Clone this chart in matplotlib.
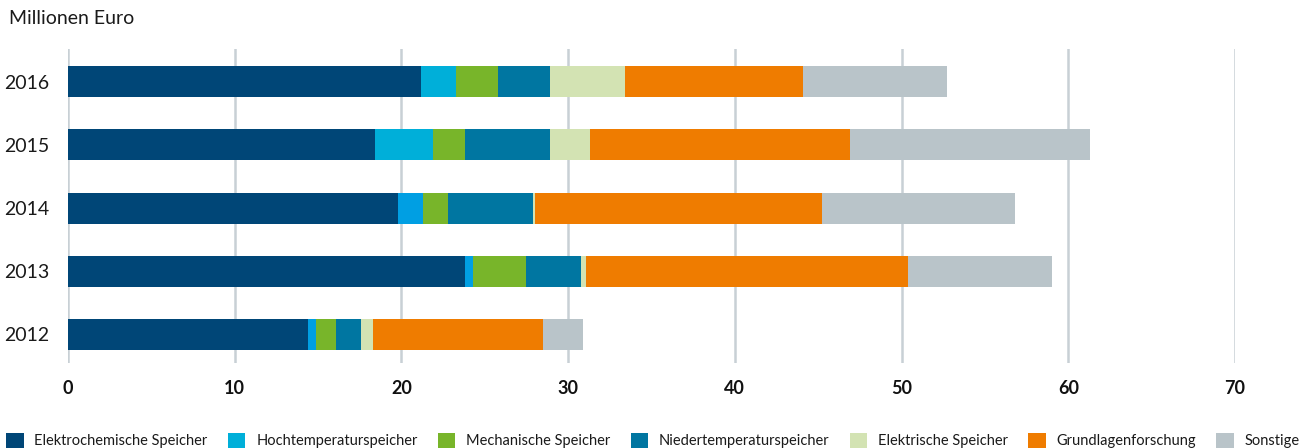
import matplotlib
matplotlib.use("Agg")
import matplotlib.pyplot as plt
from matplotlib.patches import Patch

plt.rcParams['font.family'] = ['Lato', 'DejaVu Sans']

years = ["2012", "2013", "2014", "2015", "2016"]
categories = ["Elektrochemische Speicher", "Hochtemperaturspeicher", "Mechanische Speicher",
              "Niedertemperaturspeicher", "Elektrische Speicher", "Grundlagenforschung", "Sonstige"]
elektrochemisch = [14.4, 23.8, 19.8, 18.4, 21.2]
hochtemperatur = [0.5, 0.5, 1.5, 3.5, 2.1]
mechanisch = [1.2, 3.2, 1.5, 1.9, 2.5]
niedertemperatur = [1.5, 3.3, 5.1, 5.1, 3.1]
elektrisch = [0.7, 0.3, 0.1, 2.4, 4.5]
grundlagen = [10.2, 19.3, 17.2, 15.6, 10.7]
sonstige = [2.4, 8.6, 11.6, 14.4, 8.6]
series = [elektrochemisch, hochtemperatur, mechanisch, niedertemperatur, elektrisch, grundlagen, sonstige]
colors = ["#004677", "#00AFD9", "#78B52A", "#0076A1", "#D3E3B3", "#EF7C00", "#B9C4C9"]
hoch_bar_colors = ["#009FE3", "#009FE3", "#009FE3", "#00AFD9", "#00AFD9"]
xticks = [0, 10, 20, 30, 40, 50, 60, 70]

fig = plt.figure(figsize=(13.08, 4.48), dpi=100)
ax = fig.add_axes([68/1308, 1 - 363/448, (1235 - 68)/1308, (363 - 49)/448])

ypos = list(range(len(years)))
left = [0.0] * len(years)
for i, (vals, col) in enumerate(zip(series, colors)):
    c = hoch_bar_colors if i == 1 else col
    ax.barh(ypos, vals, left=left, height=0.49, color=c, linewidth=0, zorder=3)
    left = [l + v for l, v in zip(left, vals)]

ax.set_xlim(0, 70)
ax.set_ylim(-0.452, 4.516)
ax.set_xticks(xticks)
ax.set_xticklabels([str(t) for t in xticks], fontsize=13, fontweight='bold', color='#111111')
ax.set_yticks(ypos)
ax.set_yticklabels(years, fontsize=14, color='#1a1a1a')
ax.tick_params(axis='x', length=0, pad=12)
ax.tick_params(axis='y', length=0, pad=13.5)
ax.grid(axis='x', color='#C8D0D5', linewidth=1.8, zorder=0)
ax.grid(axis='y', visible=False)
for s in ax.spines.values():
    s.set_visible(False)

fig.text(9/1308, 1 - 19/448, "Millionen Euro", fontsize=14, color='#1a1a1a', va='center', ha='left')

handles = [Patch(facecolor=c, edgecolor='none') for c in colors]
fig.legend(handles, categories, loc='lower left', bbox_to_anchor=(6/1308, 0.0, 1294/1308, 0.06),
           mode='expand', ncol=7, frameon=False, fontsize=10.5, handlelength=1.2, handleheight=1.2,
           handletextpad=0.75, borderaxespad=0.0, borderpad=0.0, columnspacing=1.0,
           labelcolor='#1a1a1a')

fig.savefig("out.png", dpi=100)
